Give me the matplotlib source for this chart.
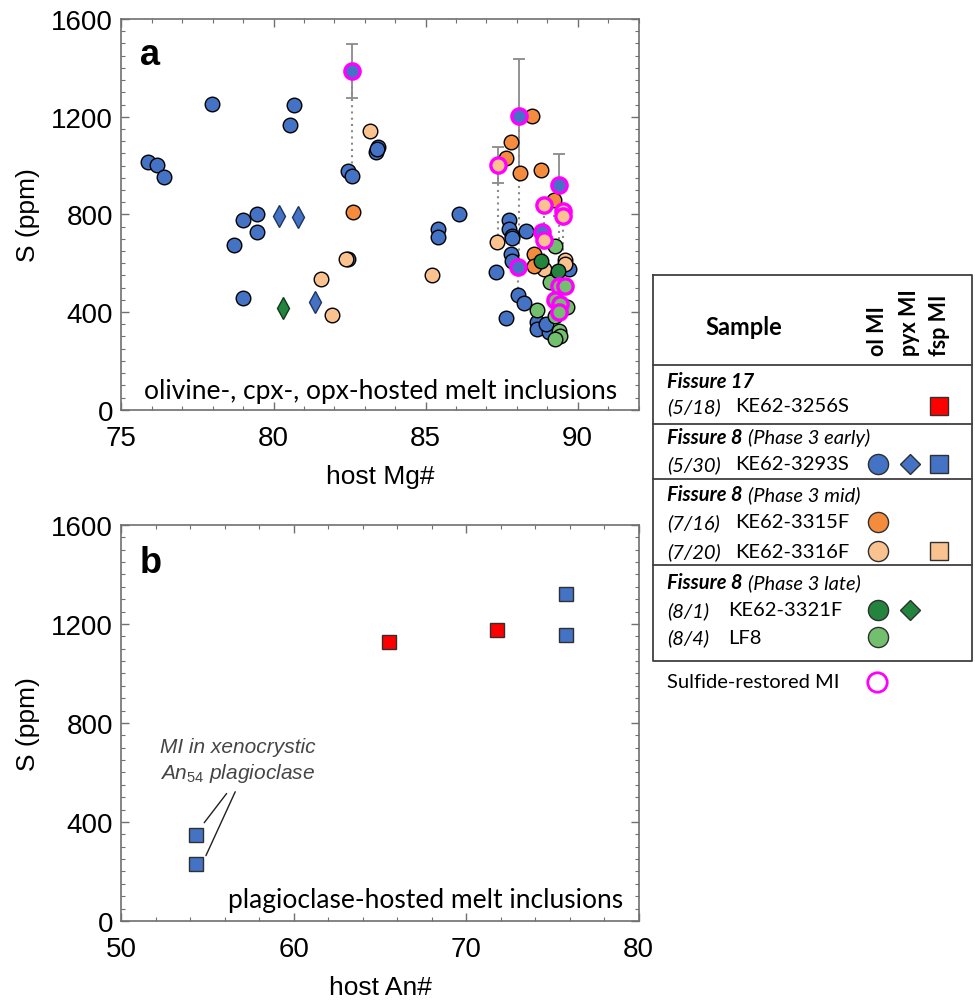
import numpy as np
import matplotlib
matplotlib.use('Agg')
import matplotlib.pyplot as plt
from matplotlib.ticker import MultipleLocator

plt.rcParams['font.family'] = ['Liberation Sans', 'DejaVu Sans']
plt.rcParams['mathtext.fontset'] = 'custom'
plt.rcParams['mathtext.rm'] = 'Liberation Sans'
plt.rcParams['mathtext.it'] = 'Liberation Sans:italic'
CAL = ['Lato', 'DejaVu Sans']

BLUE = '#4472C4'
ORANGE = '#F58B3C'
PEACH = '#F9C28E'
DKGREEN = '#23843E'
LTGREEN = '#72BF6E'
RED = '#FF0000'
MAGENTA = '#FF00FF'

# --- panel a: olivine / pyroxene hosted MI (host Mg#, S ppm) ---
ol_3293_mg = [77.97, 80.67, 80.54, 75.87, 76.17, 76.40, 79.00, 79.46, 79.46, 78.70,
              79.00, 82.44, 82.57, 83.43, 83.37, 83.40, 86.10, 85.40, 85.40, 82.46,
              87.75, 87.75, 87.84, 88.30, 87.84, 87.80, 87.84, 87.32, 89.70, 88.05,
              88.25, 87.65, 88.66, 88.66, 89.04, 88.95]
ol_3293_S = [1252, 1248, 1166, 1014, 1002, 953, 777, 802, 728, 675,
             457, 979, 956, 1075, 1057, 1066, 801, 740, 706, 617,
             777, 740, 713, 733, 702, 637, 610, 565, 576, 471,
             436, 376, 358, 330, 317, 350]
pyx_3293_mg = [80.18, 80.81, 81.37]
pyx_3293_S = [795, 788, 440]

ol_3315_mg = [82.62, 88.49, 87.81, 87.64, 88.11, 88.79, 89.23, 88.57, 88.55]
ol_3315_S = [808, 1204, 1095, 1029, 968, 983, 859, 637, 590]

ol_3316_mg = [83.17, 82.38, 81.55, 81.91, 85.20, 87.36, 88.88, 89.57, 89.57]
ol_3316_S = [1140, 617, 535, 388, 552, 688, 576, 613, 597]

ol_3321_mg = [88.80, 89.34]
ol_3321_S = [609, 569]
pyx_3321_mg = [80.32]
pyx_3321_S = [415]

ol_lf8_mg = [89.24, 89.10, 88.66, 89.64, 89.26, 89.37, 89.42, 89.26]
ol_lf8_S = [669, 522, 409, 419, 382, 323, 303, 290]

# sulfide-restored MI: restored S, uncertainty, S before restoration
rest_mg = [82.57, 88.08, 87.39, 89.37, 88.88, 89.53, 89.53, 88.82, 88.88, 88.05,
           89.37, 89.59, 89.26, 89.42, 89.37]
rest_S = [1388, 1201, 1002, 920, 839, 815, 794, 729, 696, 586,
          505, 505, 449, 433, 399]
rest_err = [110, 235, 72, 127, 0, 0, 0, 0, 0, 0, 0, 0, 0, 0, 0]
rest_meas = [958, 600, 688, 520, 580, 600, np.nan, np.nan, np.nan, 471,
             np.nan, np.nan, np.nan, np.nan, np.nan]
rest_sample = ['3293', '3293', '3316', '3293', '3316', '3316', '3316', '3293', '3316', '3293',
               'lf8', 'lf8', 'lf8', 'lf8', 'lf8']

# --- panel b: plagioclase hosted MI (host An#, S ppm) ---
fsp_3256_an = [65.55, 71.78]
fsp_3256_S = [1128, 1176]
fsp_3293_an = [54.3, 54.3, 75.77, 75.77]
fsp_3293_S = [348, 230, 1322, 1157]

sample_color = {'3293': BLUE, '3315': ORANGE, '3316': PEACH, '3321': DKGREEN, 'lf8': LTGREEN}


def style_axes(ax, xmin, xmax, xmajor, xminor, xlabel):
    ax.set_xlim(xmin, xmax)
    ax.set_ylim(0, 1600)
    ax.xaxis.set_major_locator(MultipleLocator(xmajor))
    ax.xaxis.set_minor_locator(MultipleLocator(xminor))
    ax.yaxis.set_major_locator(MultipleLocator(400))
    ax.yaxis.set_minor_locator(MultipleLocator(50))
    ax.tick_params(which='both', direction='in', top=True, right=True,
                   color='#707070', labelsize=20)
    ax.tick_params(which='major', length=6, width=1)
    ax.tick_params(axis='x', which='major', pad=11)
    ax.tick_params(axis='y', which='major', pad=6)
    ax.tick_params(which='minor', length=3, width=0.8)
    for s in ax.spines.values():
        s.set_color('#707070')
        s.set_linewidth(1.2)
    ax.set_xlabel(xlabel, fontsize=19, labelpad=9)
    ax.set_ylabel('S (ppm)', fontsize=19, labelpad=8)


fig = plt.figure(figsize=(9.75, 10.03), dpi=100)

# panel a
ax = fig.add_axes([0.1246, 0.5905, 0.5303, 0.3895])
style_axes(ax, 75, 92, 5, 1, 'host Mg#')

for mg, s, m in zip(rest_mg, rest_meas, rest_S):
    if not np.isnan(s):
        ax.plot([mg, mg], [s, m], ls=(0, (1, 2)), color='#8a8a8a', lw=1.5, zorder=1)
for mg, s, e in zip(rest_mg, rest_S, rest_err):
    if e > 0:
        ax.errorbar(mg, s, yerr=e, fmt='none', ecolor='#8a8a8a', elinewidth=1.3,
                    capsize=4.5, capthick=1.3, zorder=1)

circ = dict(marker='o', ms=10.5, mec='black', mew=1.0, ls='none', zorder=3)
ax.plot(ol_3293_mg, ol_3293_S, mfc=BLUE, **circ)
ax.plot(ol_3316_mg, ol_3316_S, mfc=PEACH, **circ)
ax.plot(ol_3315_mg, ol_3315_S, mfc=ORANGE, **circ)
ax.plot(ol_lf8_mg, ol_lf8_S, mfc=LTGREEN, **circ)
ax.plot(ol_3321_mg, ol_3321_S, mfc=DKGREEN, **circ)
ax.plot(pyx_3293_mg, pyx_3293_S, marker='d', ms=11, mfc=BLUE, mec='#1f3560', mew=1.0,
        ls='none', zorder=3)
ax.plot(pyx_3321_mg, pyx_3321_S, marker='d', ms=11, mfc=DKGREEN, mec='#0f3a1c', mew=1.0,
        ls='none', zorder=3)
for mg, s, smp in zip(rest_mg, rest_S, rest_sample):
    ax.plot(mg, s, marker='o', ms=11, mfc=sample_color[smp], mec=MAGENTA, mew=2.4,
            ls='none', zorder=4)

ax.text(0.036, 0.91, 'a', transform=ax.transAxes, fontsize=26, fontweight='bold',
        ha='left', va='center')
ax.text(0.958, 0.048, 'olivine-, cpx-, opx-hosted melt inclusions', transform=ax.transAxes,
        fontsize=19, family=CAL, ha='right', va='center')

# panel b
bx = fig.add_axes([0.1246, 0.0808, 0.5303, 0.3948])
style_axes(bx, 50, 80, 10, 2, 'host An#')
sq = dict(marker='s', ms=9.5, mec='#303030', mew=1.0, ls='none', zorder=3)
bx.plot(fsp_3256_an, fsp_3256_S, mfc=RED, **sq)
bx.plot(fsp_3293_an, fsp_3293_S, mfc=BLUE, **sq)

bx.annotate('', xy=(54.8, 397), xytext=(56.1, 515),
            arrowprops=dict(arrowstyle='-', color='#202020', lw=1.0, shrinkA=0, shrinkB=0))
bx.annotate('', xy=(54.9, 264), xytext=(56.6, 522),
            arrowprops=dict(arrowstyle='-', color='#202020', lw=1.0, shrinkA=0, shrinkB=0))
bx.text(56.74, 705, 'MI in xenocrystic', fontsize=15, style='italic', color='#454545',
        ha='center', va='center')
bx.text(56.74, 600, r'An$_{\mathit{54}}$ plagioclase', fontsize=15, style='italic',
        color='#454545', ha='center', va='center')

bx.text(0.036, 0.906, 'b', transform=bx.transAxes, fontsize=26, fontweight='bold',
        ha='left', va='center')
bx.text(0.97, 0.055, 'plagioclase-hosted melt inclusions', transform=bx.transAxes,
        fontsize=19, family=CAL, ha='right', va='center')

# legend table, drawn in figure pixels
lg = fig.add_axes([0, 0, 1, 1])
lg.set_xlim(0, 975)
lg.set_ylim(1003, 0)
lg.axis('off')
lg.patch.set_visible(False)

edge = '#404040'
lg.plot([653, 972, 972, 653, 653], [276, 276, 662, 662, 276], color=edge, lw=1.3)
for yy in [366, 425, 480, 566]:
    lg.plot([653, 972], [yy, yy], color=edge, lw=1.3)

lg.text(744, 327, 'Sample', fontsize=17, fontweight='bold', family=CAL, ha='center', va='center')
for xx, lab in [(878, 'ol MI'), (910, 'pyx MI'), (940, 'fsp MI')]:
    lg.text(xx, 356, lab, fontsize=15.5, fontweight='bold', family=CAL, rotation=90,
            ha='center', va='bottom')

fs = 14.5
renderer = fig.canvas.get_renderer()
headers = [(382, 'Fissure 17', ''), (438, 'Fissure 8', '(Phase 3 early)'),
           (495, 'Fissure 8', '(Phase 3 mid)'), (583, 'Fissure 8', '(Phase 3 late)')]
for yy, bold, rest in headers:
    t = lg.text(667, yy, bold, fontsize=fs, fontweight='bold', style='italic', family=CAL,
                va='center', ha='left')
    if rest:
        x_end = t.get_window_extent(renderer).x1 + 5
        lg.text(x_end, 1003 - yy, rest, transform=None, fontsize=fs, style='italic',
                family=CAL, va='center', ha='left')

rows = [(407, '(5/18)', 'KE62-3256S', 735), (465, '(5/30)', 'KE62-3293S', 735),
        (523, '(7/16)', 'KE62-3315F', 735), (552, '(7/20)', 'KE62-3316F', 735),
        (611, '(8/1)', 'KE62-3321F', 728), (638, '(8/4)', 'LF8', 728)]
for yy, date, name, xn in rows:
    lg.text(667, yy, date, fontsize=fs, style='italic', family=CAL, va='center', ha='left')
    lg.text(xn, yy, name, fontsize=fs, family=CAL, va='center', ha='left')

lc = dict(ls='none', mec='#303030', mew=1.0)
lg.plot(939, 407, marker='s', ms=13, mfc=RED, **lc)
lg.plot(878, 465, marker='o', ms=14.5, mfc=BLUE, **lc)
lg.plot(910, 465, marker='D', ms=10, mfc=BLUE, **lc)
lg.plot(939, 465, marker='s', ms=13, mfc=BLUE, **lc)
lg.plot(878, 523, marker='o', ms=14.5, mfc=ORANGE, **lc)
lg.plot(878, 552, marker='o', ms=14.5, mfc=PEACH, **lc)
lg.plot(939, 552, marker='s', ms=13, mfc=PEACH, **lc)
lg.plot(878, 611, marker='o', ms=14.5, mfc=DKGREEN, **lc)
lg.plot(910, 611, marker='D', ms=10, mfc=DKGREEN, **lc)
lg.plot(878, 638, marker='o', ms=14.5, mfc=LTGREEN, **lc)

lg.text(667, 683, 'Sulfide-restored MI', fontsize=fs, family=CAL, va='center', ha='left')
lg.plot(877, 683, marker='o', ms=14, mfc='white', mec=MAGENTA, mew=2.0, ls='none')

fig.savefig('out.png', dpi=100)
